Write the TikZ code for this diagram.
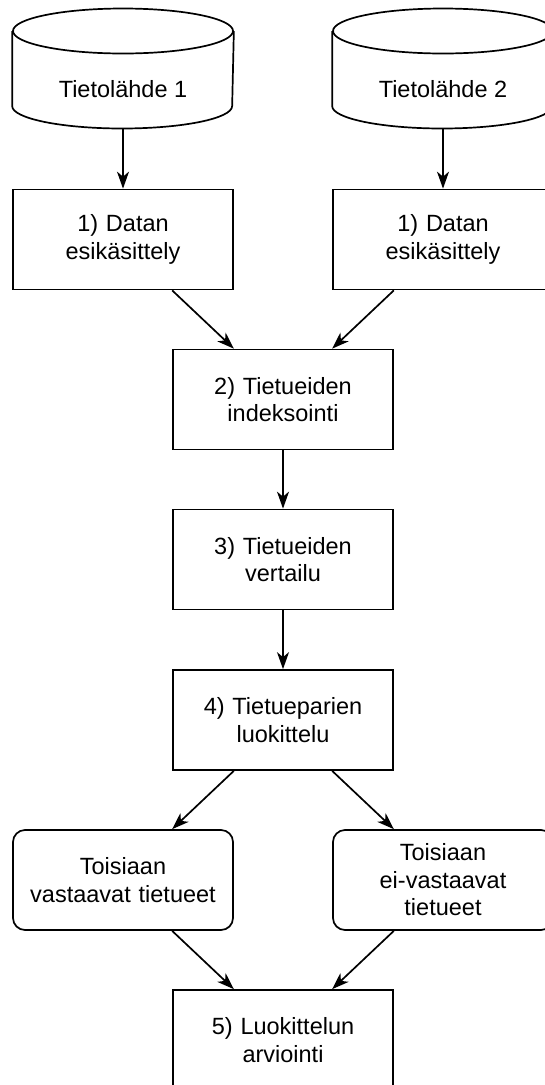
\documentclass[tikz,border=0pt]{standalone}
\usepackage{fontspec}
\setmainfont{Liberation Sans}
\usetikzlibrary{arrows.meta,calc}
\begin{document}
\begin{tikzpicture}[x=1pt,y=-1pt,
  line width=1.7pt,
  every node/.style={font=\fontsize{23.5}{27.5}\selectfont, align=center, inner sep=0pt},
  procbox/.style={draw, minimum width=220pt, minimum height=100pt, text width=212pt},
  resbox/.style={procbox, rounded corners=12pt},
  cylbox/.style={minimum width=220pt, minimum height=120pt},
  flow/.style={-{Stealth[length=17pt,width=12pt,inset=5pt]}}
]
\useasboundingbox (0,0) rectangle (545,1085);
\clip (0,0) rectangle (545,1085);

% cylinders
\foreach \n/\cx/\t in {c1/123/{Tietolähde 1}, c2/443/{Tietolähde 2}}{
  \node[cylbox] (\n) at (\cx,68.5) {};
  \draw (\cx,31) ellipse[x radius=110pt, y radius=22.5pt];
  \draw (\n.west |- 0,31) -- (\n.west |- 0,106)
        arc[start angle=180, end angle=360, x radius=110pt, y radius=22.5pt]
        -- (\n.east |- 0,31);
  \node at (\cx,89.5) {\t};
}

\node[procbox] (b1l) at (123,239.5) {1) Datan\\esikäsittely};
\node[procbox] (b1r) at (443,239.5) {1) Datan\\esikäsittely};
\node[procbox] (b2) at (283,399.5) {2) Tietueiden\\indeksointi};
\node[procbox] (b3) at (283,559.5) {3) Tietueiden\\vertailu};
\node[procbox] (b4) at (283,720) {4) Tietueparien\\luokittelu};
\node[resbox] (r1) at (123,880) {Toisiaan\\vastaavat tietueet};
\node[resbox] (r2) at (443,880) {Toisiaan\\ei-vastaavat\\tietueet};
\node[procbox] (b5) at (283,1040) {5) Luokittelun\\arviointi};

\draw[flow] (c1.south) -- (b1l.north);
\draw[flow] (c2.south) -- (b1r.north);
\draw[flow] (b1l.south -| b2.west) -- (b2.north -| b1l.east);
\draw[flow] (b1r.south -| b2.east) -- (b2.north -| b1r.west);
\draw[flow] (b2.south) -- (b3.north);
\draw[flow] (b3.south) -- (b4.north);
\draw[flow] (b4.south -| r1.east) -- (r1.north -| b4.west);
\draw[flow] (b4.south -| r2.west) -- (r2.north -| b4.east);
\draw[flow] (r1.south -| b5.west) -- (b5.north -| r1.east);
\draw[flow] (r2.south -| b5.east) -- (b5.north -| r2.west);
\end{tikzpicture}
\end{document}
